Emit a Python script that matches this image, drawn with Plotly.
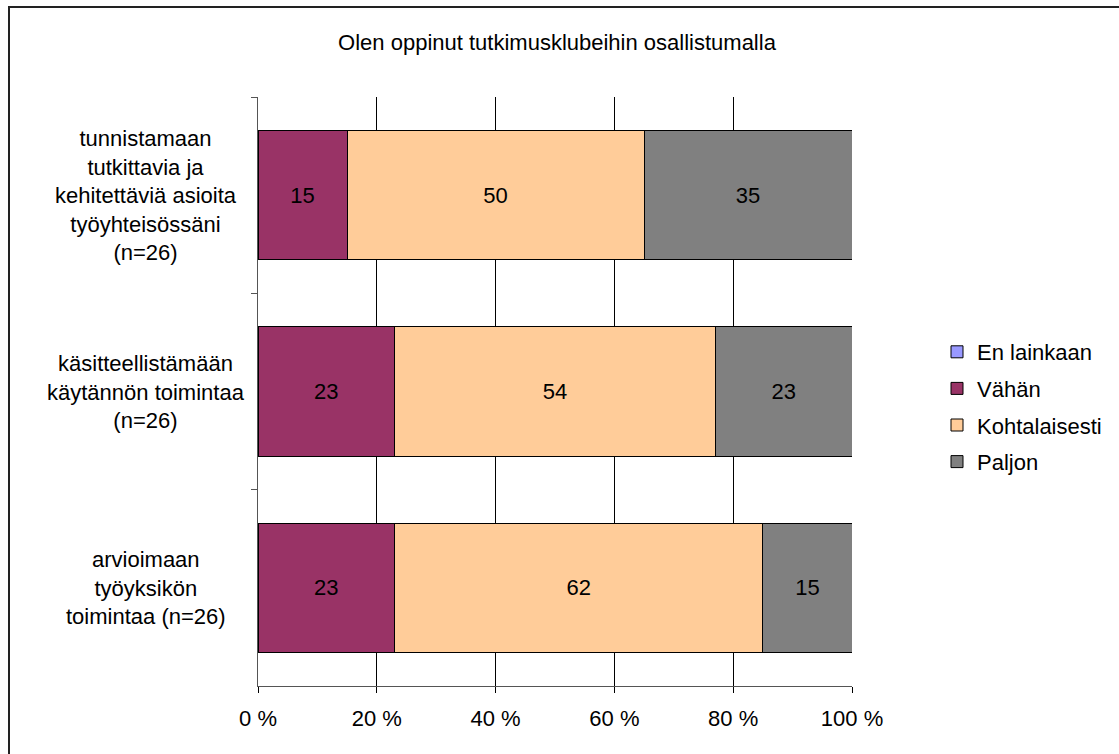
import plotly.graph_objects as go

categories = [
    "tunnistamaan<br>tutkittavia ja<br>kehitettäviä asioita<br>työyhteisössäni<br>(n=26)",
    "käsitteellistämään<br>käytännön toimintaa<br>(n=26)",
    "arvioimaan<br>työyksikön<br>toimintaa (n=26)",
]
cat_keys = ["c1", "c2", "c3"]
series_names = ["En lainkaan", "Vähän", "Kohtalaisesti", "Paljon"]
en_lainkaan = [0, 0, 0]
vahan = [15, 23, 23]
kohtalaisesti = [50, 54, 62]
paljon = [35, 23, 15]
series_values = [en_lainkaan, vahan, kohtalaisesti, paljon]
colors = ["#9999FF", "#993366", "#FFCC99", "#808080"]
title_text = "Olen oppinut tutkimusklubeihin osallistumalla"
x_ticks = [0, 20, 40, 60, 80, 100]
x_tick_labels = ["0 %", "20 %", "40 %", "60 %", "80 %", "100 %"]

FONT = "Liberation Sans, Arial, sans-serif"
FS = 22

W, H = 1119, 754
L, R, T, B = 258, 852, 97, 686
pw, ph = R - L, B - T

fig = go.Figure()
for i, (name, vals, col) in enumerate(zip(series_names, series_values, colors)):
    fig.add_trace(go.Bar(
        y=cat_keys, x=vals, name=name, orientation="h",
        marker=dict(color=col, line=dict(color="#000000", width=1)),
        text=[str(v) if v else "" for v in vals],
        textposition="inside", insidetextanchor="middle",
        textfont=dict(family=FONT, size=FS, color="#000000"),
        legendgroup=name,
        hoverinfo="x+name",
    ))

annotations = []
for key, lab in zip(cat_keys, categories):
    annotations.append(dict(
        x=(146 - L) / pw, xref="paper", y=key, yref="y",
        text=lab, showarrow=False, xanchor="center", yanchor="middle",
        align="center", font=dict(family=FONT, size=FS, color="#000000"),
    ))

shapes = [dict(
    type="rect", xref="paper", yref="paper",
    x0=(9 - L) / pw, x1=(1135 - L) / pw,
    y0=(B - 775) / ph, y1=1 + (T - 7) / ph,
    line=dict(color="#222222", width=2), fillcolor="rgba(0,0,0,0)", layer="below",
)]

fig.update_layout(
    width=W, height=H,
    margin=dict(l=L, r=W - R, t=T, b=H - B, pad=0),
    barmode="stack", bargap=0.34,
    paper_bgcolor="white", plot_bgcolor="white",
    font=dict(family=FONT, size=FS, color="#000000"),
    title=dict(text=title_text, x=557 / W, xref="container", xanchor="center",
               y=1 - 42 / H, yref="container", yanchor="middle",
               font=dict(family=FONT, size=FS, color="#000000")),
    xaxis=dict(range=[0, 100], tickmode="array", tickvals=x_ticks, ticktext=x_tick_labels,
               showgrid=True, gridcolor="#000000", gridwidth=1,
               showline=True, linecolor="#555555", linewidth=1,
               ticks="outside", ticklen=6, tickcolor="#000000",
               ticklabelstandoff=7, zeroline=False, fixedrange=True),
    yaxis=dict(type="category", categoryorder="array", categoryarray=cat_keys,
               autorange="reversed", showticklabels=False,
               tickson="boundaries", ticks="outside", ticklen=6, tickcolor="#555555",
               showline=True, linecolor="#555555", linewidth=1,
               showgrid=False, zeroline=False, fixedrange=True),
    legend=dict(x=937 / W, xref="container", xanchor="left",
                y=1 - 331 / H, yref="container", yanchor="top",
                font=dict(family=FONT, size=FS, color="#000000"),
                tracegroupgap=5, traceorder="grouped", bgcolor="rgba(0,0,0,0)"),
    annotations=annotations,
    shapes=shapes,
    uniformtext=dict(minsize=FS, mode="show"),
)

fig.write_html("out.html", config={"displayModeBar": False},
               post_script="document.body.style.margin='0';document.body.style.overflow='hidden';")
